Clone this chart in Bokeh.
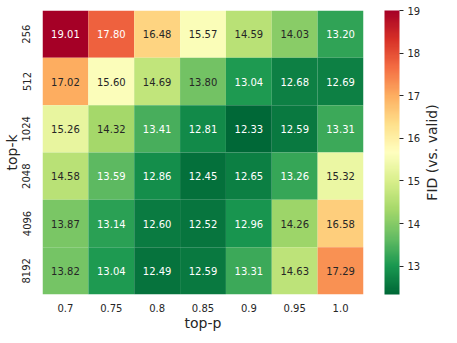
import math
import numpy as np
from bokeh.plotting import figure
from bokeh.layouts import row
from bokeh.models import (ColumnDataSource, LinearColorMapper, ColorBar, FixedTicker,
                          FactorRange, Range1d)
from bokeh.core.properties import value
from bokeh.embed import file_html
from bokeh.resources import INLINE

top_p = ["0.7", "0.75", "0.8", "0.85", "0.9", "0.95", "1.0"]
top_k = ["256", "512", "1024", "2048", "4096", "8192"]
fid = [
    [19.01, 17.80, 16.48, 15.57, 14.59, 14.03, 13.20],
    [17.02, 15.60, 14.69, 13.80, 13.04, 12.68, 12.69],
    [15.26, 14.32, 13.41, 12.81, 12.33, 12.59, 13.31],
    [14.58, 13.59, 12.86, 12.45, 12.65, 13.26, 15.32],
    [13.87, 13.14, 12.60, 12.52, 12.96, 14.26, 16.58],
    [13.82, 13.04, 12.49, 12.59, 13.31, 14.63, 17.29],
]
cbar_ticks = [13, 14, 15, 16, 17, 18, 19]
cbar_title = "FID (vs. valid)"

# RdYlGn colorbrewer anchors, reversed (green = low)
anchors = ['#a50026', '#d73027', '#f46d43', '#fdae61', '#fee08b', '#ffffbf',
           '#d9ef8b', '#a6d96a', '#66bd63', '#1a9850', '#006837'][::-1]
def hex2rgb(h):
    return np.array([int(h[i:i+2], 16) for i in (1, 3, 5)], dtype=float)
arr = np.array([hex2rgb(h) for h in anchors])
pos = np.linspace(0, 1, len(arr))
palette = []
for t in np.linspace(0, 1, 256):
    rgb = [np.interp(t, pos, arr[:, c]) for c in range(3)]
    palette.append('#%02x%02x%02x' % tuple(int(round(v)) for v in rgb))

flat = np.array(fid)
vmin, vmax = flat.min(), flat.max()
mapper = LinearColorMapper(palette=palette, low=vmin, high=vmax)

def lum(hexc):
    rgb = hex2rgb(hexc) / 255.0
    rgb = np.where(rgb <= 0.03928, rgb / 12.92, ((rgb + 0.055) / 1.055) ** 2.4)
    return 0.2126 * rgb[0] + 0.7152 * rgb[1] + 0.0722 * rgb[2]

xs, ys, vals, labels, tcols = [], [], [], [], []
for i, k in enumerate(top_k):
    for j, pp in enumerate(top_p):
        v = fid[i][j]
        xs.append(pp); ys.append(k); vals.append(v); labels.append("%.2f" % v)
        idx = int(round((v - vmin) / (vmax - vmin) * 255))
        c = palette[min(max(idx, 0), 255)]
        tcols.append('#262626' if lum(c) > 0.408 else 'white')

src = ColumnDataSource(dict(x=xs, y=ys, v=vals, t=labels, tc=tcols))

p = figure(x_range=FactorRange(*top_p), y_range=FactorRange(*top_k[::-1]),
           frame_width=321, frame_height=284, min_border_left=38, min_border_top=10,
           min_border_right=0, min_border_bottom=5,
           output_backend="svg", toolbar_location=None)
p.rect(x='x', y='y', width=1, height=1, source=src,
       fill_color={'field': 'v', 'transform': mapper}, line_color=None)
p.text(x='x', y='y', text='t', source=src, text_color='tc',
       text_align='center', text_baseline='middle', text_font_size='10px',
       text_font=value("DejaVu Sans"))

p.outline_line_color = None
p.grid.grid_line_color = None
for ax in (p.xaxis, p.yaxis):
    ax.axis_line_color = None
    ax.major_tick_line_color = None
    ax.minor_tick_line_color = None
    ax.major_label_text_font = "DejaVu Sans"
    ax.major_label_text_font_size = "10px"
    ax.major_label_text_color = "#262626"
    ax.axis_label_text_font = "DejaVu Sans"
    ax.axis_label_text_font_size = "14px"
    ax.axis_label_text_font_style = "normal"
    ax.axis_label_text_color = "#262626"
    ax.axis_label_standoff = 0
p.xaxis.axis_label = "top-p"
p.yaxis.axis_label = "top-k"
p.yaxis.major_label_orientation = "vertical"
p.xaxis.major_label_standoff = 3
p.yaxis.major_label_standoff = 6

cb = ColorBar(color_mapper=mapper, width=15, height=284, margin=0, padding=0,
              ticker=FixedTicker(ticks=cbar_ticks), major_tick_in=0, major_tick_out=4,
              major_tick_line_color='#262626', major_label_text_font_size='10px',
              major_label_text_font="DejaVu Sans", major_label_text_color='#262626',
              label_standoff=4,
              bar_line_color=None, border_line_color=None, location=(21, 0))
p.add_layout(cb, 'right')

# narrow companion figure holding the colour bar's title, reading bottom to top
p2 = figure(x_range=Range1d(0, 22), y_range=Range1d(0, 1),
            frame_width=22, frame_height=284, min_border_left=0, min_border_right=0,
            min_border_top=10, min_border_bottom=0,
            output_backend="svg", toolbar_location=None)
p2.axis.visible = False
p2.grid.visible = False
p2.outline_line_color = None
p2.text(x=[0], y=[0.5], text=[cbar_title], angle=math.pi / 2,
        text_align='center', text_baseline='top', text_font_size='14px',
        text_font=value("DejaVu Sans"), text_color='#262626')

open("out.html", "w").write(file_html(row(p, p2), INLINE))
